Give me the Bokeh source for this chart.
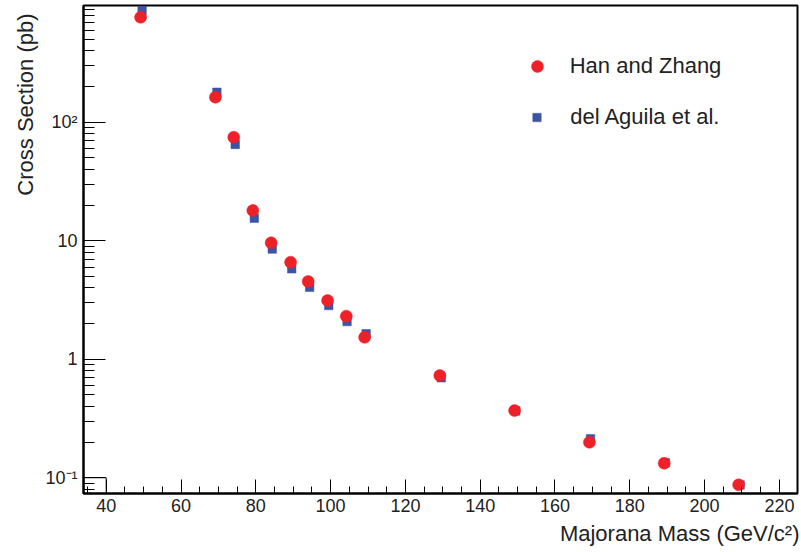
from bokeh.plotting import figure
from bokeh.models import (Range1d, FixedTicker, Legend, LegendItem, Title)
from bokeh.embed import file_html
from bokeh.resources import INLINE

# ---- data ----
han_mass = [49.2, 69.2, 74.1, 79.2, 84.1, 89.3, 94.0, 99.2, 104.2, 109.1,
            129.2, 149.2, 169.2, 189.2, 209.1]
han_xsec = [769, 162.5, 74.7, 18.0, 9.6, 6.59, 4.53, 3.13, 2.31, 1.53,
            0.728, 0.369, 0.199, 0.1325, 0.0871]
aguila_mass = [49.6, 69.6, 74.5, 79.6, 84.4, 89.6, 94.4, 99.5, 104.4, 109.5,
               129.6, 149.5, 169.5, 189.5, 209.5]
aguila_xsec = [880, 179, 65, 15.5, 8.5, 5.79, 4.05, 2.84, 2.08, 1.64,
               0.697, 0.366, 0.213, 0.134, 0.087]

x_major = [40, 60, 80, 100, 120, 140, 160, 180, 200, 220]
x_minor = [35, 45, 50, 55, 65, 70, 75, 85, 90, 95, 105, 110, 115, 125, 130,
           135, 145, 150, 155, 165, 170, 175, 185, 190, 195, 205, 210, 215,
           225]
y_major = [0.1, 1, 10, 100]
y_labels = ["10\u207b\u00b9", "1", "10", "10\u00b2"]
y_minor = [0.08, 0.09, 0.2, 0.3, 0.4, 0.5, 0.6, 0.7, 0.8, 0.9,
           2, 3, 4, 5, 6, 7, 8, 9, 20, 30, 40, 50, 60, 70, 80, 90,
           200, 300, 400, 500, 600, 700, 800, 900]

stub_x = [34.0, 40.0]
stub_y = [0.07, 0.1]

x_lo, x_hi = 33.93, 224.84
y_lo, y_hi = 0.0736, 966.0

FONT = "Liberation Sans"
TXT = "#222222"
RED = "#EE2128"
BLUE = "#3A55A4"

p = figure(width=801, height=552, y_axis_type="log",
           x_range=Range1d(x_lo, x_hi), y_range=Range1d(y_lo, y_hi),
           output_backend="svg", toolbar_location=None)
p.min_border = 0
p.min_border_left = 83
p.min_border_right = 4
p.min_border_top = 5
p.min_border_bottom = 59
p.xgrid.visible = False
p.ygrid.visible = False
p.background_fill_color = "white"
p.border_fill_color = "white"
p.outline_line_color = "black"
p.outline_line_width = 2

xa = p.xaxis[0]
xa.ticker = FixedTicker(ticks=x_major, minor_ticks=x_minor)
xa.major_tick_in = 14
xa.major_tick_out = 0
xa.minor_tick_in = 7
xa.minor_tick_out = 0
xa.major_tick_line_color = "black"
xa.minor_tick_line_color = "black"
xa.axis_line_width = 2
xa.major_label_standoff = 5
xa.major_label_text_font = FONT
xa.major_label_text_font_size = "18px"
xa.major_label_text_color = TXT

ya = p.yaxis[0]
ya.ticker = FixedTicker(ticks=y_major, minor_ticks=y_minor)
ya.major_label_overrides = {v: s for v, s in zip(y_major, y_labels)}
ya.major_tick_in = 22
ya.major_tick_out = 0
ya.minor_tick_in = 11
ya.minor_tick_out = 0
ya.major_tick_line_color = "black"
ya.minor_tick_line_color = "black"
ya.axis_line_width = 2
ya.major_label_standoff = 6
ya.major_label_text_font = FONT
ya.major_label_text_font_size = "18px"
ya.major_label_text_color = TXT

# small stub box in the lower-left corner of the frame
p.quad(left=stub_x[0], right=stub_x[1], bottom=stub_y[0], top=stub_y[1],
       fill_alpha=0, line_color="black", line_width=1)

r_sq = p.scatter(aguila_mass, aguila_xsec, marker="square", size=8.5,
                 fill_color=BLUE, line_color=BLUE, line_width=0.5)
r_ci = p.scatter(han_mass, han_xsec, marker="circle", size=12,
                 fill_color=RED, line_color=RED, line_width=0.5)

leg1 = Legend(items=[LegendItem(label="Han and Zhang", renderers=[r_ci])],
              location=(438.7, 412), glyph_width=30, glyph_height=30,
              label_height=30, label_standoff=18, padding=0, margin=0,
              border_line_alpha=0, background_fill_alpha=0,
              label_text_font=FONT, label_text_font_size="22px",
              label_text_color=TXT)
leg2 = Legend(items=[LegendItem(label="del Aguila et al.", renderers=[r_sq])],
              location=(443.2, 360.7), glyph_width=21, glyph_height=30,
              label_height=30, label_standoff=23, padding=0, margin=0,
              border_line_alpha=0, background_fill_alpha=0,
              label_text_font=FONT, label_text_font_size="22px",
              label_text_color=TXT)
p.add_layout(leg1)
p.add_layout(leg2)

p.add_layout(Title(text="Majorana Mass (GeV/c\u00b2)", align="right",
                   text_font=FONT, text_font_size="22px",
                   text_font_style="normal", text_color=TXT,
                   standoff=8, offset=-2), "below")
p.add_layout(Title(text="Cross Section (pb)", align="right",
                   text_font=FONT, text_font_size="22px",
                   text_font_style="normal", text_color=TXT,
                   standoff=9, offset=8), "left")

open("out.html", "w").write(file_html(p, INLINE))
